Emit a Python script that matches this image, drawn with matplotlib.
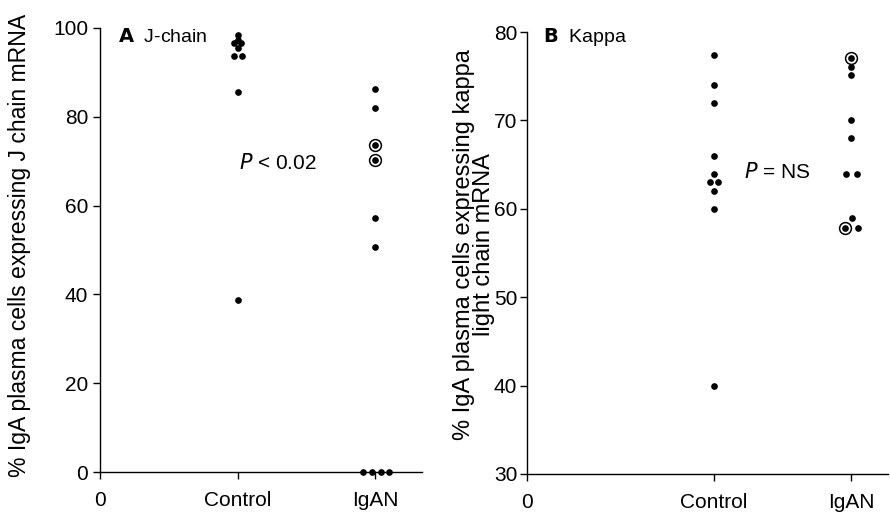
import matplotlib.pyplot as plt

plt.rcParams['font.family'] = ['Liberation Sans', 'DejaVu Sans']
plt.rcParams['font.size'] = 15

groups = ["0", "Control", "IgAN"]

# panel A: J-chain
ctrl_a = [98.5, 97.4, 96.6, 96.6, 95.6, 93.6, 93.6, 85.6, 38.7]
ctrl_a_dx = [0, 0, -0.025, 0.025, 0, -0.03, 0.03, 0, 0]
igan_a = [86.3, 82.0, 57.3, 50.6, 0, 0, 0, 0]
igan_a_dx = [0, 0, 0, 0, -0.09, -0.025, 0.04, 0.1]
igan_a_circled = [73.7, 70.2]

# panel B: Kappa
ctrl_b = [77.4, 74.0, 72.0, 66.0, 64.0, 63.0, 63.0, 62.0, 60.0, 40.0]
ctrl_b_dx = [0, 0, 0, 0, 0, -0.03, 0.03, 0, 0, 0]
igan_b = [76.1, 75.1, 70.0, 68.0, 64.0, 64.0, 59.0, 57.8]
igan_b_dx = [0, 0, 0, 0, -0.04, 0.04, 0.01, 0.05]
igan_b_circled = [77.1, 57.8]
igan_b_circled_dx = [0, -0.045]


def dots(ax, x0, vals, dx):
    ax.plot([x0 + d for d in dx], vals, 'o', color='black', ms=3.8,
            clip_on=False, zorder=5)


def rings(ax, x0, vals, dx=None):
    if dx is None:
        dx = [0] * len(vals)
    xs = [x0 + d for d in dx]
    ax.plot(xs, vals, 'o', mfc='white', mec='black', mew=1.1, ms=8.5,
            clip_on=False, zorder=5)
    ax.plot(xs, vals, 'o', color='black', ms=3.8, clip_on=False, zorder=6)


def style(ax):
    for s in ['top', 'right']:
        ax.spines[s].set_visible(False)
    for s in ['left', 'bottom']:
        ax.spines[s].set_linewidth(1.0)
    ax.tick_params(direction='out', length=5, width=1.0, labelsize=15)
    ax.tick_params(axis='x', pad=9)


fig = plt.figure(figsize=(8.9, 5.18), dpi=100)

ax1 = fig.add_axes([0.1124, 0.0888, 0.3618, 0.8572])
dots(ax1, 1, ctrl_a, ctrl_a_dx)
dots(ax1, 2, igan_a, igan_a_dx)
rings(ax1, 2, igan_a_circled)
ax1.set_xlim(0, 2.34)
ax1.set_ylim(0, 100)
ax1.set_xticks([0, 1, 2])
ax1.set_xticklabels(groups)
ax1.set_yticks([0, 20, 40, 60, 80, 100])
ax1.set_ylabel("% IgA plasma cells expressing J chain mRNA", fontsize=16.6)
ax1.yaxis.set_label_coords(-0.215, 0.51)
ax1.text(0.13, 98, r"$\bf{A}$  J-chain", fontsize=14, va='center')
ax1.text(1.01, 69.6, r"$P$ < 0.02", fontsize=15, va='center')
style(ax1)

ax2 = fig.add_axes([0.592, 0.085, 0.406, 0.853])
dots(ax2, 1, ctrl_b, ctrl_b_dx)
dots(ax2, 2, igan_b, igan_b_dx)
rings(ax2, 2, igan_b_circled, igan_b_circled_dx)
ax2.set_xlim(-0.36, 2.27)
ax2.set_ylim(30, 80)
ax2.set_xticks([-0.36, 1, 2])
ax2.set_xticklabels(groups)
ax2.set_yticks([30, 40, 50, 60, 70, 80])
ax2.set_ylabel("% IgA plasma cells expressing kappa\nlight chain mRNA",
               fontsize=17, linespacing=0.9)
ax2.yaxis.set_label_coords(-0.088, 0.52)
ax2.text(-0.24, 79.5, r"$\bf{B}$  Kappa", fontsize=14, va='center')
ax2.text(1.22, 64.2, r"$P$ = NS", fontsize=15, va='center')
style(ax2)
ax2.tick_params(axis='y', pad=2)

fig.savefig("out.png", dpi=100)
